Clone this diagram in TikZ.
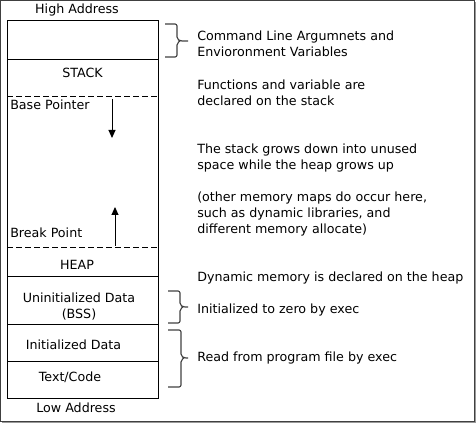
\documentclass[tikz,border=0pt]{standalone}
\usepackage{fontspec}
\setmainfont{DejaVu Sans}
\usetikzlibrary{arrows.meta}
\begin{document}
\begin{tikzpicture}[x=0.75pt,y=-0.75pt,
  every node/.style={inner sep=0pt, font=\fontsize{9.5}{12}\selectfont},
  lbl/.style={anchor=base},
  note/.style={anchor=north west, align=left},
  region/.style={draw=black, line width=0.75pt},
  divider/.style={line width=0.75pt, dash pattern=on 4.5pt off 2.25pt},
  growth/.style={line width=0.75pt, -{Triangle[length=6pt,width=5.25pt]}},
  bracket/.style={draw=black!75, line width=0.85pt, rounded corners=1.5pt, line join=round},
  frame/.style={draw=black!75, line width=0.75pt},
  shadow/.style={draw=black!40, line width=0.9pt}]
\useasboundingbox (0,0) rectangle (476,423);
% outer frame
\draw[shadow] (475.3,2) -- (475.3,422.3) -- (2,422.3);
\draw[frame] (0.5,0.5) rectangle (474,421.2);
% memory column
\draw[region] (7,21) rectangle (158,399);
\draw[region] (7,60) -- (158,60);
\draw[region] (7,277) -- (158,277);
\draw[region] (7,325) -- (158,325);
\draw[region] (7,362) -- (158,362);
\draw[divider] (7,97) -- (158,97);
\draw[divider] (7,248) -- (158,248);
% column labels
\node[lbl] (hi) at (77,14) {High Address};
\node[lbl] (stack) at (82.5,78) {STACK};
\node[lbl, anchor=base west] (bp) at (10,110) {Base Pointer};
\node[lbl, anchor=base west] (brk) at (10,238) {Break Point};
\node[lbl] (heap) at (77,270) {HEAP};
\node[anchor=north, align=center] (bss) at (79,290.8) {\strut Uninitialized Data\\(BSS)};
\node[lbl] (init) at (73.5,350) {Initialized Data};
\node[lbl] (code) at (70,382) {Text/Code};
\node[lbl] (lo) at (76,413) {Low Address};
% growth arrows
\coordinate (downS) at (112,99);
\coordinate (downE) at (112,138);
\coordinate (upS) at (115,246);
\coordinate (upE) at (115,207);
\draw[growth] (downS) -- (downE);
\draw[growth] (upS) -- (upE);
% notes
\node[note] (cmd) at (197,28.8) {\strut Command Line Argumnets and\\Envioronment Variables};
\node[note] (func) at (197,77.8) {\strut Functions and variable are\\declared on the stack};
\node[note] (grow) at (197,141.8) {\strut The stack grows down into unused\\space while the heap grows up};
\node[note] (other) at (197,189.8) {\strut (other memory maps do occur here,\\such as dynamic libraries, and\\different memory allocate)};
\node[note] (dyn) at (197,269.8) {\strut Dynamic memory is declared on the heap};
\node[note] (zero) at (197,301.8) {\strut Initialized to zero by exec};
\node[note] (read) at (197,349.8) {\strut Read from program file by exec};
% braces
\draw[bracket] (165,24) -- (177,24) -- (177,39) -- (180,41) -- (188,41)
  (180,41) -- (177,43) -- (177,57) -- (165,57);
\draw[bracket] (168,291) -- (180,291) -- (180,305) -- (183,307) -- (188,307)
  (183,307) -- (180,309) -- (180,323) -- (168,323);
\draw[bracket] (168,330) -- (181,330) -- (181,356) -- (184,358) -- (188,358)
  (184,358) -- (181,360) -- (181,387) -- (168,387);
\end{tikzpicture}
\end{document}
